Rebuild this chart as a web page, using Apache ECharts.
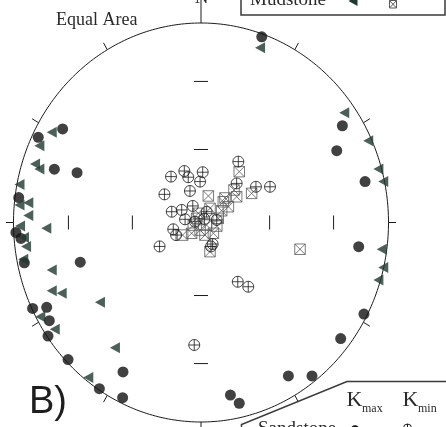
<!DOCTYPE html>
<html>
<head>
<meta charset="utf-8">
<script src="https://cdn.jsdelivr.net/npm/echarts@6/dist/echarts.min.js"></script>
<style>
  html, body { margin: 0; padding: 0; background: #fff; }
  #chart { width: 446px; height: 427px; }
</style>
</head>
<body>
<div id="chart"></div>
<script>
// AMS principal axes, equal-area lower-hemisphere projection.
// Each point is [east, north] on a net of unit radius.
const kmaxSandstone = [
  [0.324, 0.931], [0.754, 0.485], [0.724, 0.360], [0.875, 0.205], [0.841, -0.121],
  [0.869, -0.459], [0.745, -0.582], [0.592, -0.769], [0.466, -0.769], [0.204, -0.906],
  [0.157, -0.865], [-0.416, -0.749], [-0.418, -0.878], [-0.542, -0.833], [-0.709, -0.687],
  [-0.816, -0.569], [-0.809, -0.492], [-0.898, -0.431], [-0.823, -0.425], [-0.644, -0.199],
  [-0.942, -0.202], [-0.987, -0.050], [-0.960, -0.080], [-0.972, 0.125], [-0.782, 0.267],
  [-0.661, 0.250], [-0.738, 0.469], [-0.868, 0.427]
];
const kmaxMudstone = [
  [0.315, 0.876], [0.764, 0.550], [0.892, 0.410], [0.946, 0.268], [0.972, 0.205],
  [0.964, -0.134], [0.972, -0.225], [0.946, -0.288], [-0.796, 0.452], [-0.862, 0.385],
  [-0.885, 0.293], [-0.862, 0.268], [-0.968, 0.190], [-0.921, 0.099], [-0.968, 0.088],
  [-0.921, 0.035], [-0.825, -0.029], [-0.965, -0.018], [-0.944, -0.075], [-0.933, -0.120],
  [-0.948, -0.184], [-0.796, -0.238], [-0.796, -0.342], [-0.743, -0.355], [-0.539, -0.400],
  [-0.857, -0.472], [-0.780, -0.535], [-0.459, -0.628], [-0.601, -0.777]
];
const kminSandstone = [
  [0.199, 0.305], [-0.089, 0.258], [-0.160, 0.230], [-0.068, 0.227], [0.009, 0.252],
  [-0.005, 0.205], [0.190, 0.196], [0.293, 0.179], [0.368, 0.179], [-0.195, 0.141],
  [-0.059, 0.158], [-0.044, 0.083], [-0.156, 0.054], [-0.103, 0.063], [-0.085, 0.016],
  [0.030, 0.054], [0.018, 0.018], [-0.148, -0.034], [-0.133, -0.063], [-0.221, -0.120],
  [0.062, -0.108], [0.053, -0.120], [-0.032, 0.004], [0.084, 0.013], [0.196, -0.297],
  [0.252, -0.322], [-0.036, -0.614]
];
const kminMudstone = [
  [0.204, 0.255], [0.039, 0.133], [0.190, 0.129], [0.270, 0.146], [0.176, 0.163],
  [0.119, 0.104], [0.110, 0.059], [0.146, 0.079], [0.128, 0.123], [0.528, -0.134],
  [0.048, -0.146], [-0.098, -0.063], [-0.050, -0.054], [-0.005, -0.038], [0.030, -0.013],
  [0.084, -0.018], [0.092, 0.021], [-0.023, 0.021], [0.048, 0.071], [-0.014, 0.046],
  [0.021, -0.063], [-0.041, -0.013], [0.066, -0.054]
];

// Net furniture: perimeter ticks every 30° (azimuth, length) and plunge markers
const perimeterTicks = [
  [0, 0.12], [30, 0.04], [60, 0.04], [90, 0.04], [120, 0.04], [150, 0.04],
  [180, 0.06], [210, 0.04], [240, 0.04], [270, 0.04], [300, 0.04], [330, 0.04]
];
const plungeMarkers = [60, 30];   // degrees of plunge marked along N-S and E-W
const axisAzimuths = [0, 90, 180, 270];

const INK = '#1c1c1c';
const TRI_COLOR = '#1f3830';

const eqArea = p => Math.SQRT2 * Math.sin((90 - p) / 2 * Math.PI / 180);

const markerData = [];
axisAzimuths.forEach(az => plungeMarkers.forEach(p => markerData.push([az, eqArea(p)])));

const triPath = 'path://M0,5L9,0L9,10Z';
const plusCirclePath = 'path://M10,5A5,5,0,1,1,0,5A5,5,0,1,1,10,5ZM0,5L10,5M5,0L5,10';
const crossBoxPath = 'path://M0,0L10,0L10,10L0,10ZM0,0L10,10M10,0L0,10';

const chart = echarts.init(document.getElementById('chart'), null, { renderer: 'canvas' });

const serif = 'Liberation Serif, Times New Roman, serif';

const option = {
  animation: false,
  backgroundColor: '#fff',
  grid: { left: 13.5, top: 23, width: 375, height: 399 },
  xAxis: { type: 'value', min: -1, max: 1, show: false },
  yAxis: { type: 'value', min: -1, max: 1, show: false },
  series: [
    {
      // primitive circle
      type: 'custom', coordinateSystem: 'cartesian2d', silent: true, z: 1,
      data: [[0, 0]],
      renderItem: (params, api) => {
        const pts = [];
        for (let a = 0; a <= 360; a += 1) {
          const t = a * Math.PI / 180;
          pts.push(api.coord([Math.sin(t), Math.cos(t)]));
        }
        return { type: 'polyline', shape: { points: pts }, style: { stroke: INK, lineWidth: 1, fill: null } };
      }
    },
    {
      type: 'custom', coordinateSystem: 'cartesian2d', silent: true, z: 1,
      data: perimeterTicks,
      renderItem: (params, api) => {
        const t = api.value(0) * Math.PI / 180, len = api.value(1);
        const a = api.coord([Math.sin(t), Math.cos(t)]);
        const b = api.coord([(1 + len) * Math.sin(t), (1 + len) * Math.cos(t)]);
        return { type: 'line', shape: { x1: a[0], y1: a[1], x2: b[0], y2: b[1] }, style: { stroke: INK, lineWidth: 1 } };
      }
    },
    {
      type: 'custom', coordinateSystem: 'cartesian2d', silent: true, z: 1,
      data: markerData,
      renderItem: (params, api) => {
        const t = api.value(0) * Math.PI / 180, r = api.value(1);
        const c = api.coord([r * Math.sin(t), r * Math.cos(t)]);
        const ns = Math.abs(Math.sin(t)) < 0.5;
        const h = 7;
        const shape = ns ? { x1: c[0] - h, y1: c[1], x2: c[0] + h, y2: c[1] }
                         : { x1: c[0], y1: c[1] - h, x2: c[0], y2: c[1] + h };
        return { type: 'line', shape, style: { stroke: INK, lineWidth: 1 } };
      }
    },
    {
      name: 'Kmax Sandstone', type: 'scatter', clip: false, z: 3,
      data: kmaxSandstone, symbol: 'circle', symbolSize: 11,
      itemStyle: { color: '#121212' }
    },
    {
      name: 'Kmax Mudstone', type: 'scatter', clip: false, z: 4,
      data: kmaxMudstone, symbol: triPath, symbolSize: [10, 11],
      itemStyle: { color: TRI_COLOR }
    },
    {
      name: 'Kmin Mudstone', type: 'scatter', clip: false, z: 5,
      data: kminMudstone, symbol: crossBoxPath, symbolSize: 10.5,
      itemStyle: { color: 'rgba(255,255,255,0)', borderColor: '#5a5a5a', borderWidth: 1 }
    },
    {
      name: 'Kmin Sandstone', type: 'scatter', clip: false, z: 6,
      data: kminSandstone, symbol: plusCirclePath, symbolSize: 11,
      itemStyle: { color: 'rgba(255,255,255,0)', borderColor: '#1a1a1a', borderWidth: 1 }
    }
  ],
  graphic: [
    { type: 'text', x: 56, y: 29, style: { text: 'Equal Area', font: '18px ' + serif, fill: '#2a2a2a', textVerticalAlign: 'bottom', verticalAlign: 'bottom' } },
    { type: 'text', x: 201.5, y: 8, style: { text: 'N', font: '19px ' + serif, fill: '#2a2a2a', textAlign: 'center', align: 'center', textVerticalAlign: 'bottom', verticalAlign: 'bottom' } },
    { type: 'text', x: 29, y: 422, style: { text: 'B)', font: '38px Liberation Sans, Arial, sans-serif', fill: '#1e1e1e', textVerticalAlign: 'bottom', verticalAlign: 'bottom' } },

    // legend box, upper right
    { type: 'rect', shape: { x: 241, y: -40, width: 204, height: 55 }, style: { fill: '#fff', stroke: '#3a3a3a', lineWidth: 1.5 }, z: 10 },
    { type: 'text', x: 250, y: 10, style: { text: 'Mudstone', font: '19px ' + serif, fill: '#2a2a2a', textVerticalAlign: 'bottom', verticalAlign: 'bottom' }, z: 11 },
    { type: 'polygon', shape: { points: [[348.5, 1], [357.5, -4], [357.5, 6]] }, style: { fill: TRI_COLOR }, z: 11 },
    { type: 'rect', shape: { x: 389.5, y: 0.5, width: 7, height: 7.5 }, style: { fill: null, stroke: '#5a5a5a', lineWidth: 1 }, z: 11 },
    { type: 'line', shape: { x1: 389.5, y1: 0.5, x2: 396.5, y2: 8 }, style: { stroke: '#5a5a5a', lineWidth: 1 }, z: 11 },
    { type: 'line', shape: { x1: 396.5, y1: 0.5, x2: 389.5, y2: 8 }, style: { stroke: '#5a5a5a', lineWidth: 1 }, z: 11 },

    // legend box, lower right
    { type: 'polygon', shape: { points: [[241.5, 440], [241.5, 424.5], [347, 381.5], [450, 381.5], [450, 440]] }, style: { fill: '#fff', stroke: '#3a3a3a', lineWidth: 1.5 }, z: 10 },
    { type: 'text', x: 346.5, y: 411, style: { text: 'K', font: '22px ' + serif, fill: '#2a2a2a', textVerticalAlign: 'bottom', verticalAlign: 'bottom' }, z: 11 },
    { type: 'text', x: 362, y: 414.5, style: { text: 'max', font: '12px ' + serif, fill: '#2a2a2a', textVerticalAlign: 'bottom', verticalAlign: 'bottom' }, z: 11 },
    { type: 'text', x: 402.5, y: 411, style: { text: 'K', font: '22px ' + serif, fill: '#2a2a2a', textVerticalAlign: 'bottom', verticalAlign: 'bottom' }, z: 11 },
    { type: 'text', x: 418, y: 414.5, style: { text: 'min', font: '12px ' + serif, fill: '#2a2a2a', textVerticalAlign: 'bottom', verticalAlign: 'bottom' }, z: 11 },
    { type: 'text', x: 258, y: 439, style: { text: 'Sandstone', font: '19px ' + serif, fill: '#2a2a2a', textVerticalAlign: 'bottom', verticalAlign: 'bottom' }, z: 11 },
    { type: 'circle', shape: { cx: 355, cy: 430, r: 4.7 }, style: { fill: '#121212' }, z: 11 },
    { type: 'circle', shape: { cx: 407.5, cy: 428, r: 4 }, style: { fill: null, stroke: '#1a1a1a', lineWidth: 1 }, z: 11 },
    { type: 'line', shape: { x1: 403.5, y1: 428, x2: 411.5, y2: 428 }, style: { stroke: '#1a1a1a', lineWidth: 1 }, z: 11 },
    { type: 'line', shape: { x1: 407.5, y1: 424, x2: 407.5, y2: 432 }, style: { stroke: '#1a1a1a', lineWidth: 1 }, z: 11 }
  ]
};

chart.setOption(option);
</script>
</body>
</html>
